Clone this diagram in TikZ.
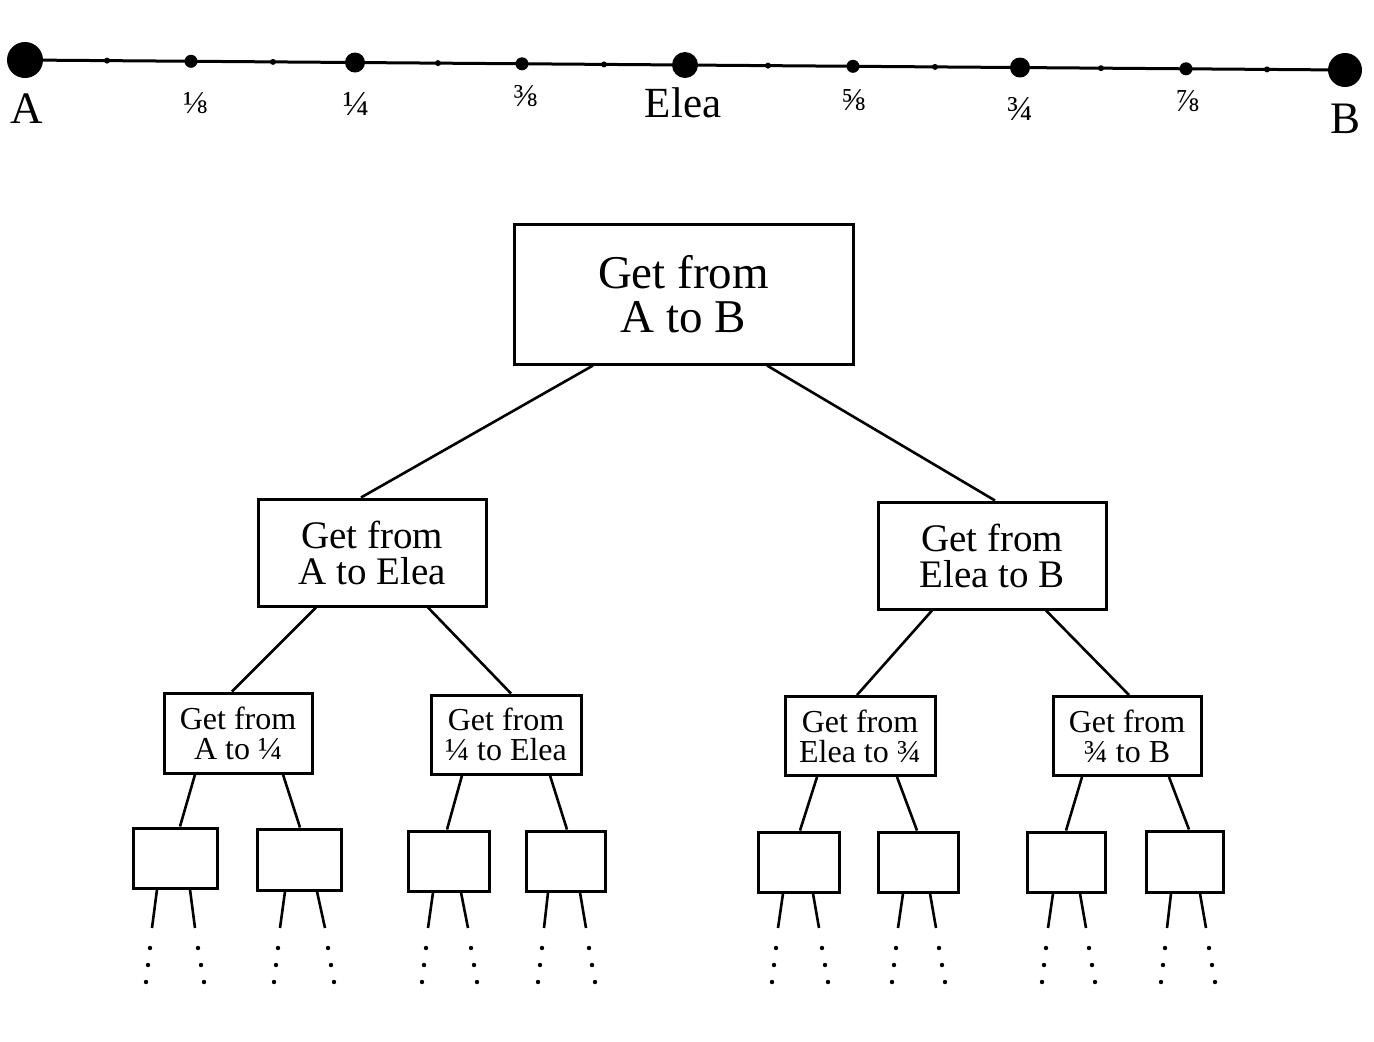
\documentclass[tikz,border=0pt]{standalone}
\usepackage{fontspec}
\setmainfont{Liberation Serif}
\usetikzlibrary{calc}
\begin{document}
\begin{tikzpicture}[x=0.5pt,y=-0.5pt,
  box/.style={draw,line width=1.5pt,inner sep=0pt,align=center},
  conn/.style={line width=1.3pt},
  pt/.style={circle,fill,inner sep=0pt,minimum size=#1},
  lbl/.style={inner sep=0pt,anchor=center},
  bigf/.style={font=\fontsize{23.5pt}{22pt}\selectfont},
  midf/.style={font=\fontsize{19.5pt}{18pt}\selectfont},
  smf/.style={font=\fontsize{16pt}{15pt}\selectfont}]
\useasboundingbox (0,0) rectangle (1374,1041);

% ---------- number line ----------
\node[pt=18pt] (nA) at (25,60) {};
\node[pt=3pt] (t1) at (107,60.6) {};
\node[pt=6.5pt] (e1) at (191,61.3) {};
\node[pt=3pt] (t2) at (273,61.9) {};
\node[pt=10pt] (q1) at (355,62.5) {};
\node[pt=3pt] (t3) at (438,63.1) {};
\node[pt=6.5pt] (e3) at (522,63.8) {};
\node[pt=3pt] (t4) at (604,64.4) {};
\node[pt=13pt] (nM) at (685,65) {};
\node[pt=3pt] (t5) at (768,65.6) {};
\node[pt=6.5pt] (e5) at (853,66.3) {};
\node[pt=3pt] (t6) at (935,66.9) {};
\node[pt=10pt] (q3) at (1020,67.5) {};
\node[pt=3pt] (t7) at (1101,68.2) {};
\node[pt=6.5pt] (e7) at (1186,68.8) {};
\node[pt=3pt] (t8) at (1267,69.4) {};
\node[pt=17pt] (nB) at (1345,70) {};
\draw[line width=1.5pt] (nA.center) -- (nB.center);

\node[inner sep=0pt,anchor=base,font=\fontsize{22.5pt}{24pt}\selectfont] (lA) at (27,123) {A};
\node[inner sep=0pt,anchor=base,font=\fontsize{22.5pt}{24pt}\selectfont] (lB) at (1345,133) {B};
\node[inner sep=0pt,anchor=base,font=\fontsize{21.5pt}{24pt}\selectfont] (lM) at (683,117) {Elea};
\node[lbl,font=\fontsize{16pt}{17pt}\selectfont] (l1) at (195,103) {⅛};
\node[lbl,font=\fontsize{17.5pt}{18pt}\selectfont] (l2) at (356,104) {¼};
\node[lbl,font=\fontsize{16pt}{17pt}\selectfont] (l3) at (525,96) {⅜};
\node[lbl,font=\fontsize{16pt}{17pt}\selectfont] (l5) at (853,100) {⅝};
\node[lbl,font=\fontsize{17.5pt}{18pt}\selectfont] (l6) at (1020,109) {¾};
\node[lbl,font=\fontsize{16pt}{17pt}\selectfont] (l7) at (1187,101) {⅞};

% ---------- tree ----------
\node[box,bigf,minimum width=169.5pt,minimum height=70pt] (top) at (683.5,294) {Get from\\A to B};
\node[box,midf,minimum width=114pt,minimum height=53.5pt] (ml) at (372,552.5) {Get from\\A to Elea};
\node[box,midf,minimum width=114pt,minimum height=53.5pt] (mr) at (992,555.5) {Get from\\Elea to B};
\node[box,smf,minimum width=74pt,minimum height=40pt] (s1) at (238,733) {Get from\\A to ¼};
\node[box,smf,minimum width=75pt,minimum height=39.5pt] (s2) at (506,734.5) {Get from\\¼ to Elea};
\node[box,smf,minimum width=75pt,minimum height=39.5pt] (s3) at (860,736) {Get from\\Elea to ¾};
\node[box,smf,minimum width=74pt,minimum height=39.5pt] (s4) at (1127,736) {Get from\\¾ to B};

\node[box,minimum width=42pt,minimum height=30pt] (L1) at (175,858) {};
\node[box,minimum width=42pt,minimum height=30.5pt] (L2) at (299,859.5) {};
\node[box,minimum width=40.5pt,minimum height=30pt] (L3) at (448.5,861) {};
\node[box,minimum width=39.5pt,minimum height=30pt] (L4) at (565.5,861) {};
\node[box,minimum width=40.5pt,minimum height=30pt] (L5) at (798.5,862) {};
\node[box,minimum width=40pt,minimum height=30pt] (L6) at (918,862) {};
\node[box,minimum width=39pt,minimum height=30pt] (L7) at (1066,862) {};
\node[box,minimum width=38.5pt,minimum height=30.5pt] (L8) at (1184.5,861.5) {};

\draw[conn] ([xshift=-45.25pt]top.south) -- ([xshift=-5.5pt]ml.north);
\draw[conn] ([xshift=41.75pt]top.south) -- ([xshift=1.5pt]mr.north);
\draw[conn] ([xshift=-28pt]ml.south) -- ([xshift=-3pt]s1.north);
\draw[conn] ([xshift=28pt]ml.south) -- ([xshift=2.5pt]s2.north);
\draw[conn] ([xshift=-30pt]mr.south) -- ([xshift=-1.5pt]s3.north);
\draw[conn] ([xshift=27pt]mr.south) -- ([xshift=1pt]s4.north);
\draw[conn] ([xshift=-21.5pt]s1.south) -- ([xshift=2.5pt]L1.north);
\draw[conn] ([xshift=22.5pt]s1.south) -- ([xshift=0.5pt]L2.north);
\draw[conn] ([xshift=-22pt]s2.south) -- ([xshift=-0.75pt]L3.north);
\draw[conn] ([xshift=22pt]s2.south) -- ([xshift=0.75pt]L4.north);
\draw[conn] ([xshift=-21.5pt]s3.south) -- ([xshift=0.75pt]L5.north);
\draw[conn] ([xshift=18.5pt]s3.south) -- ([xshift=-0.5pt]L6.north);
\draw[conn] ([xshift=-22.5pt]s4.south) -- (L7.north);
\draw[conn] ([xshift=21pt]s4.south) -- ([xshift=2.25pt]L8.north);

% legs and dots under the leaves
\foreach \n/\la/\lb/\ra/\rb in {L1/157/152/190/195, L2/285/280/317/325,
    L3/433/428/461/468, L4/548/544/580/586, L5/783/778/813/819,
    L6/903/898/930/936, L7/1053/1048/1080/1086, L8/1171/1167/1200/1206} {
  \coordinate (\n-l) at (\lb,928);
  \coordinate (\n-r) at (\rb,928);
  \draw[conn] (\n.south -| \la,0) -- (\n-l);
  \draw[conn] (\n.south -| \ra,0) -- (\n-r);
  \foreach \k/\yy in {1/948,2/965,3/982} {
    \fill ({\lb-2*\k},\yy) circle (1.1pt);
    \fill ({\rb+3*\k},\yy) circle (1.1pt);
  }
}
\end{tikzpicture}
\end{document}
